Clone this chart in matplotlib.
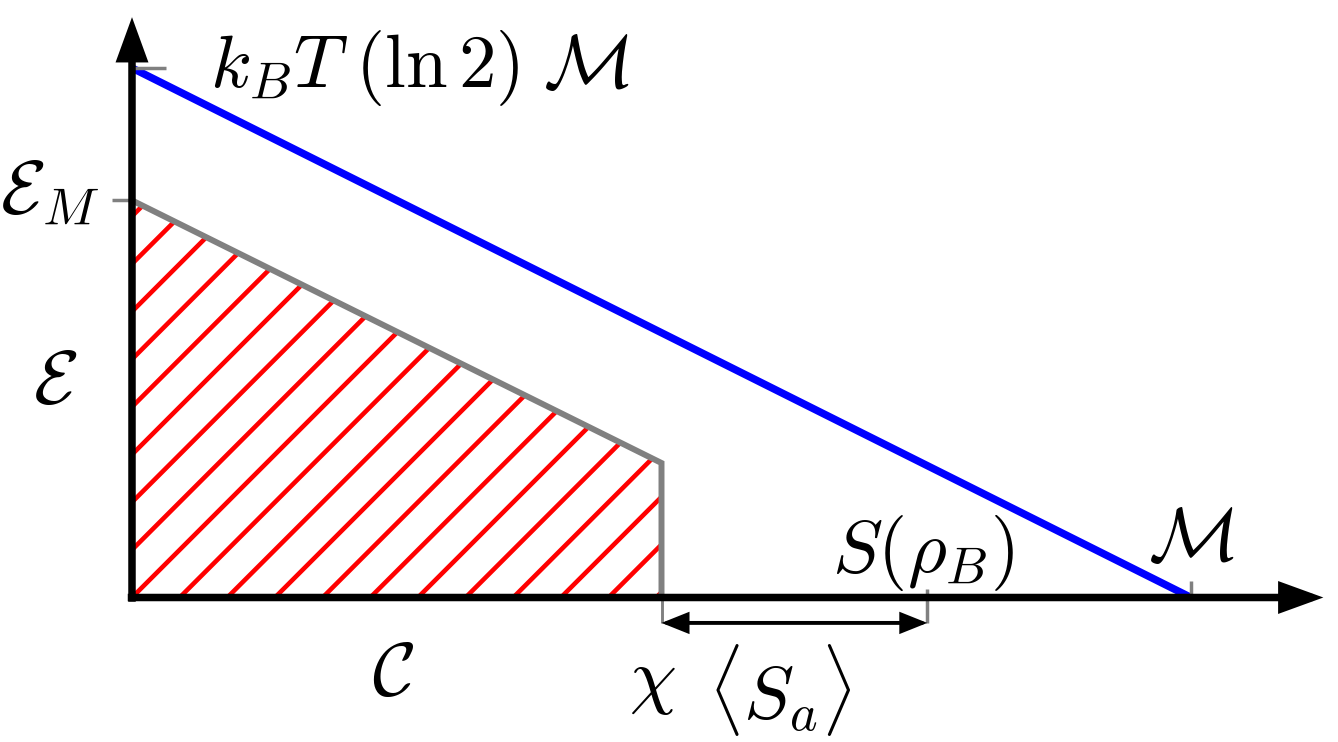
import numpy as np
import matplotlib
matplotlib.use('Agg')
import matplotlib.pyplot as plt
from matplotlib.patches import Polygon

plt.rcParams['mathtext.fontset'] = 'cm'

# ── diagram values (x in units of M, y in the same units) ─────
M_max   = 1.0      # x where blue line hits the axis
top_val = 0.5      # k_B T (ln 2) M on the y axis
E_M     = 0.375    # intercept of grey line
chi     = 0.5      # corner of grey region
E_chi   = 0.127    # grey line height at chi
S_rhoB  = 0.751    # S(rho_B) marker on x axis

blue_x = [0.0, M_max]
blue_y = [top_val, 0.0]
grey_x = [0.0, chi, chi]
grey_y = [E_M, E_chi, 0.0]

HATCH_STEP = 0.045
FS = 54
GREY = '#808080'

# ── figure: axes fill the whole canvas, 1059 px per unit ──────
fig = plt.figure(figsize=(13.38, 7.42), dpi=100)
ax = fig.add_axes([0, 0, 1, 1])
ax.set_xlim(-132 / 1059, 1206 / 1059)
ax.set_ylim(-144.5 / 1059, 597.5 / 1059)
ax.axis('off')

# red hatching clipped to the grey region
region = Polygon(list(zip(grey_x + [0.0], grey_y + [0.0])), closed=True,
                 fill=False, edgecolor='none')
ax.add_patch(region)
for k in range(-10, 14):
    c = k * HATCH_STEP
    ln, = ax.plot([-1, 2], [-1 - c, 2 - c], color='#ff0000', lw=3.3,
                  solid_capstyle='butt', zorder=2)
    ln.set_clip_path(region)

# grey outline and blue line
ax.plot(grey_x, grey_y, color=GREY, lw=4.3, solid_joinstyle='miter', zorder=3)
ax.plot(blue_x, blue_y, color='#0000ff', lw=5.4, solid_capstyle='butt', zorder=3)

# small grey ticks
tk = dict(color=GREY, lw=2.5, solid_capstyle='butt', zorder=4)
ax.plot([0, 0.032], [top_val, top_val], **tk)
ax.plot([-0.019, 0], [E_M, E_M], **tk)
ax.plot([M_max, M_max], [0, 0.016], **tk)
ax.plot([S_rhoB, S_rhoB], [-0.024, 0.008], **tk)
ax.plot([chi, chi], [-0.024, 0], color=GREY, lw=2.1, solid_capstyle='butt', zorder=4)

# axes with arrow heads
arr = dict(arrowstyle='-|>,head_length=22,head_width=8', color='black',
           lw=5.4, shrinkA=0, shrinkB=0, mutation_scale=1, joinstyle='miter',
           capstyle='butt')
ax.annotate('', xy=(1.125, 0), xytext=(-0.004, 0), arrowprops=arr, zorder=5)
ax.annotate('', xy=(0, 0.548), xytext=(0, -0.004), arrowprops=arr, zorder=5)

# <S_a> dimension arrow
dim = dict(arrowstyle='<|-|>,head_length=15,head_width=6', color='black',
           lw=2.8, shrinkA=0, shrinkB=0, mutation_scale=1, joinstyle='miter')
ax.annotate('', xy=(chi, -0.024), xytext=(S_rhoB, -0.024), arrowprops=dim, zorder=5)

# labels
ax.text(0.074, 0.482, r'$k_B T\;(\ln 2)\;\mathcal{M}$', fontsize=FS,
        ha='left', va='baseline')
ax.text(-0.030, 0.363, r'$\mathcal{E}_M$', fontsize=FS, ha='right', va='baseline')
ax.text(-0.073, 0.203, r'$\mathcal{E}$', fontsize=FS, ha='center', va='center')
ax.text(0.246, -0.073, r'$\mathcal{C}$', fontsize=FS, ha='center', va='center')
ax.text(0.491, -0.097, r'$\chi$', fontsize=FS, ha='center', va='baseline')
ax.text(0.612, -0.087, r'$\langle S_a \rangle$', fontsize=FS, ha='center', va='center')
ax.text(0.747, 0.024, r'$S(\rho_B)$', fontsize=FS, ha='center', va='baseline')
ax.text(1.0, 0.035, r'$\mathcal{M}$', fontsize=FS, ha='center', va='baseline')

fig.savefig('out.png', dpi=100, facecolor='white')
